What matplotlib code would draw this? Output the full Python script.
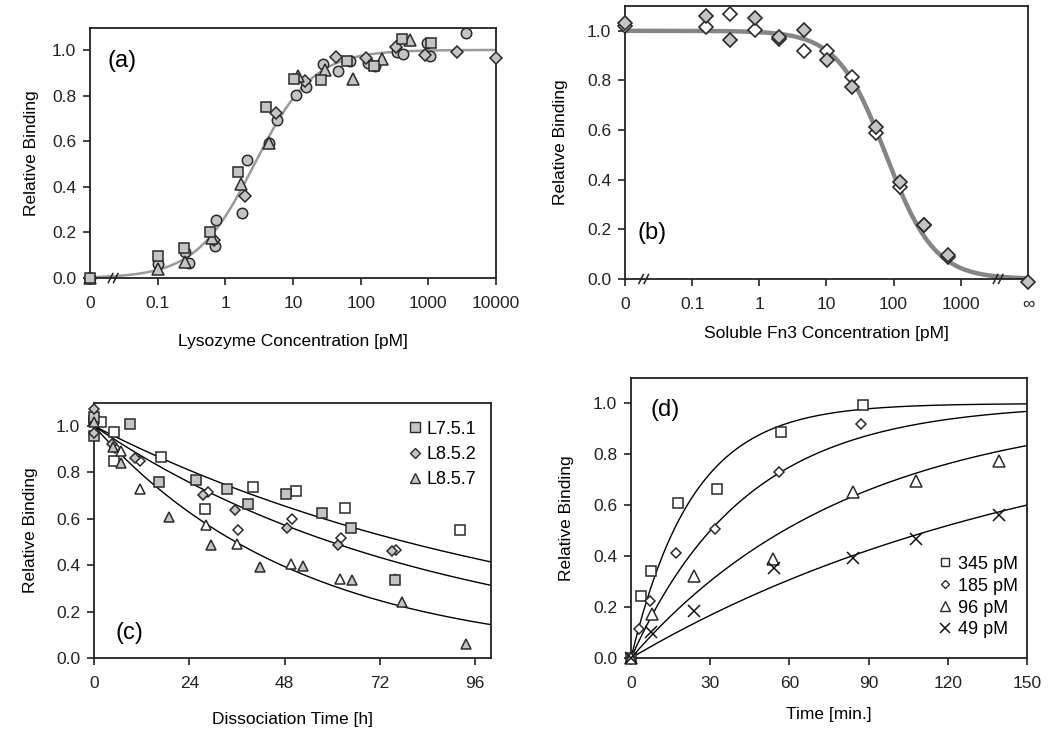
import numpy as np
import matplotlib
matplotlib.use("Agg")
import matplotlib.pyplot as plt
from matplotlib.lines import Line2D
from matplotlib.ticker import FormatStrFormatter

plt.rcParams['font.family'] = ['Liberation Sans', 'DejaVu Sans']

# ---------------- Panel (a): equilibrium titration ----------------
a_sq_x = [0, 0.1, 0.243, 0.59, 1.55, 3.96, 10.2, 26, 62, 160, 407, 1110]
a_sq_y = [0, 0.096, 0.133, 0.20, 0.466, 0.751, 0.871, 0.866, 0.952, 0.93, 1.047, 1.032]
a_ci_x = [0, 0.1, 0.257, 0.295, 0.74, 0.70, 1.78, 2.11, 4.4, 5.77, 11.0, 15.5,
          27.4, 46, 70, 127, 163, 348, 421, 970, 1050, 3590]
a_ci_y = [0, 0.061, 0.115, 0.064, 0.254, 0.142, 0.286, 0.518, 0.59, 0.693, 0.803, 0.839,
          0.937, 0.908, 0.952, 0.944, 0.93, 0.993, 0.982, 1.029, 0.975, 1.073]
a_tr_x = [0, 0.1, 0.25, 0.64, 1.72, 4.36, 11.7, 30, 78, 206, 530]
a_tr_y = [0, 0.039, 0.072, 0.174, 0.412, 0.593, 0.886, 0.912, 0.874, 0.959, 1.044]
a_di_x = [0, 0.68, 1.95, 5.6, 15, 43, 118, 328, 885, 2670, 10000]
a_di_y = [0, 0.165, 0.361, 0.725, 0.864, 0.971, 0.963, 1.012, 0.978, 0.99, 0.966]
a_kd = 2.7  # pM, fitted
a_ticks = [0, 0.1, 1, 10, 100, 1000, 10000]
a_ticklabels = ['0', '0.1', '1', '10', '100', '1000', '10000']

# ---------------- Panel (b): competition ----------------
INF = np.inf
b_fill_x = [0, 0.16, 0.37, 0.85, 1.95, 4.6, 10.2, 24, 54, 125, 285, 650, INF]
b_fill_y = [1.03, 1.059, 0.961, 1.053, 0.976, 1.003, 0.883, 0.775, 0.614, 0.392, 0.216, 0.097, -0.011]
b_open_x = [0, 0.16, 0.37, 0.85, 1.95, 4.6, 10.2, 24, 54, 125, 285, 650]
b_open_y = [1.02, 1.016, 1.066, 1.003, 0.968, 0.92, 0.919, 0.812, 0.587, 0.372, 0.216, 0.088]
b_ic50 = 77.0
b_hill = 1.2
b_ticks = [0, 0.1, 1, 10, 100, 1000, INF]
b_ticklabels = ['0', '0.1', '1', '10', '100', '1000', '\u221e']

# ---------------- Panel (c): dissociation ----------------
c_labels = ['L7.5.1', 'L8.5.2', 'L8.5.7']
c_sq_fill_t = [0, 0, 9.0, 16.4, 25.8, 33.6, 38.8, 48.3, 57.4, 64.8, 75.8]
c_sq_fill_y = [1.039, 0.955, 1.01, 0.759, 0.766, 0.727, 0.665, 0.705, 0.625, 0.562, 0.338]
c_sq_open_t = [0, 1.8, 5.0, 5.0, 17.0, 27.9, 40.1, 51.0, 63.3, 92.1]
c_sq_open_y = [1.02, 1.017, 0.974, 0.848, 0.866, 0.644, 0.737, 0.718, 0.647, 0.553]
c_di_fill_t = [0, 0, 4.6, 10.4, 27.5, 35.6, 48.7, 61.5, 75.0]
c_di_fill_y = [1.075, 0.97, 0.924, 0.862, 0.704, 0.636, 0.56, 0.486, 0.46]
c_di_open_t = [5.2, 11.6, 28.6, 36.3, 49.9, 62.2, 76.2]
c_di_open_y = [0.905, 0.851, 0.716, 0.55, 0.598, 0.517, 0.464]
c_tr_fill_t = [0, 4.8, 6.7, 18.9, 29.6, 41.8, 52.7, 65.1, 77.6, 93.8]
c_tr_fill_y = [1.017, 0.91, 0.842, 0.608, 0.486, 0.392, 0.397, 0.335, 0.241, 0.062]
c_tr_open_t = [0, 6.7, 11.5, 28.1, 36.1, 49.6, 61.9, 75.8]
c_tr_open_y = [1.03, 0.891, 0.727, 0.572, 0.493, 0.407, 0.339, 0.339]
c_koff = [0.00882, 0.01161, 0.0194]  # 1/h, fitted
c_ticks = [0, 24, 48, 72, 96]

# ---------------- Panel (d): association ----------------
d_labels = ['345 pM', '185 pM', '96 pM', '49 pM']
d_conc = [345, 185, 96, 49]
d_t = [[0, 3.7, 7.5, 17.7, 32.5, 56.7, 87.7],
       [0, 3.0, 7.0, 17.1, 31.8, 55.9, 87.2],
       [0, 7.8, 23.9, 53.7, 84.0, 107.9, 139.3],
       [0, 7.6, 23.9, 54.0, 84.0, 107.9, 139.3]]
d_y = [[0, 0.245, 0.341, 0.61, 0.663, 0.888, 0.993],
       [0, 0.112, 0.223, 0.413, 0.505, 0.732, 0.919],
       [0, 0.171, 0.322, 0.39, 0.654, 0.696, 0.774],
       [0, 0.101, 0.184, 0.352, 0.394, 0.468, 0.56]]
d_kon = 1.25e-4  # 1/(pM min), fitted
d_ticks = [0, 30, 60, 90, 120, 150]

# ---------------- styling ----------------
GRAY = '#c4c4c4'
EDGE = '#2a2a2a'
SPINE = '#222222'
W, H = 1050, 749

fig = plt.figure(figsize=(10.5, 7.49), dpi=100)
axA = fig.add_axes([0.0857, 0.6288, 0.3867, 0.3338])
axB = fig.add_axes([0.5952, 0.6275, 0.3838, 0.3645])
axC = fig.add_axes([0.0895, 0.1215, 0.3781, 0.3405])
axD = fig.add_axes([0.6010, 0.1215, 0.3771, 0.3738])


def style(ax):
    for s in ax.spines.values():
        s.set_linewidth(1.3)
        s.set_color(SPINE)
    ax.tick_params(direction='out', length=5, width=1.2, labelsize=12.5,
                   colors=SPINE, top=False, right=False)
    ax.tick_params(axis='x', pad=8)
    ax.tick_params(axis='y', pad=5)
    ax.tick_params(which='minor', length=0)
    ax.set_yticks(np.arange(0, 1.01, 0.2))
    ax.yaxis.set_major_formatter(FormatStrFormatter('%.1f'))
    ax.set_ylabel('Relative Binding', fontsize=12.5)


def break_mark(ax, xfrac):
    pos = ax.get_position()
    wpx = pos.width * W
    hpx = pos.height * H
    for off in (-2.6, 2.6):
        x0 = xfrac + (off - 2.2) / wpx
        x1 = xfrac + (off + 2.2) / wpx
        ax.plot([x0, x1], [-4.5 / hpx, 4.5 / hpx], transform=ax.transAxes,
                color=SPINE, lw=1.1, clip_on=False, zorder=5)


def logpos(vals, zero=0.01, inf=1e4):
    v = np.asarray(vals, dtype=float)
    return np.where(v == 0, zero, np.where(np.isinf(v), inf, v))


def pts(ax, x, y, marker, ms, face, mew=1.1, zorder=4):
    ax.plot(x, y, ls='none', marker=marker, ms=ms, mfc=face, mec=EDGE,
            mew=mew, clip_on=False, zorder=zorder)


# ---- (a) ----
ax = axA
style(ax)
ax.set_xscale('log')
xx = np.logspace(-2, 4, 400)
ax.plot(xx, xx / (xx + a_kd), color='#9a9a9a', lw=1.8, zorder=2)
pts(ax, logpos(a_ci_x), a_ci_y, 'o', 7.5, GRAY)
pts(ax, logpos(a_di_x), a_di_y, 'D', 5.8, GRAY)
pts(ax, logpos(a_tr_x), a_tr_y, '^', 8.0, GRAY)
pts(ax, logpos(a_sq_x), a_sq_y, 's', 7.2, GRAY)
ax.set_xlim(0.01, 1e4)
ax.set_ylim(0, 1.096)
ax.set_xticks(logpos(a_ticks))
ax.set_xticklabels(a_ticklabels)
ax.set_xlabel('Lysozyme Concentration [pM]', fontsize=12.5)
ax.xaxis.set_label_coords(0.5, -0.222)
ax.yaxis.set_label_coords(-0.126, 0.5)
ax.text(0.042, 0.868, '(a)', transform=ax.transAxes, fontsize=17, va='center', ha='left')
break_mark(ax, (np.log10(0.022) + 2) / 6)

# ---- (b) ----
ax = axB
style(ax)
ax.set_xscale('log')
xx = np.logspace(-2, 4, 400)
ax.plot(xx, 1.0 / (1.0 + (xx / b_ic50) ** b_hill), color='#858585', lw=3.2, zorder=2,
        solid_capstyle='butt')
pts(ax, logpos(b_open_x), b_open_y, 'D', 7.6, 'white', mew=1.2)
pts(ax, logpos(b_fill_x), b_fill_y, 'D', 7.6, GRAY, mew=1.2)
ax.set_xlim(0.01, 1e4)
ax.set_ylim(0, 1.10)
ax.set_xticks(logpos(b_ticks))
ax.set_xticklabels(b_ticklabels)
ax.set_xlabel('Soluble Fn3 Concentration [pM]', fontsize=12.5)
ax.xaxis.set_label_coords(0.5, -0.172)
ax.yaxis.set_label_coords(-0.141, 0.5)
ax.text(0.032, 0.168, '(b)', transform=ax.transAxes, fontsize=17, va='center', ha='left')
break_mark(ax, (np.log10(0.019) + 2) / 6)
break_mark(ax, (np.log10(3600) + 2) / 6)

# ---- (c) ----
ax = axC
style(ax)
tt = np.linspace(0, 100, 300)
for k in c_koff:
    ax.plot(tt, np.exp(-k * tt), color='black', lw=1.0, zorder=2)
pts(ax, c_sq_open_t, c_sq_open_y, 's', 6.6, 'white')
pts(ax, c_di_open_t, c_di_open_y, 'D', 5.0, 'white')
pts(ax, c_tr_open_t, c_tr_open_y, '^', 7.2, 'white')
pts(ax, c_sq_fill_t, c_sq_fill_y, 's', 6.6, GRAY)
pts(ax, c_di_fill_t, c_di_fill_y, 'D', 5.0, GRAY)
pts(ax, c_tr_fill_t, c_tr_fill_y, '^', 7.2, GRAY)
ax.set_xlim(0, 100)
ax.set_ylim(0, 1.099)
ax.set_xticks(c_ticks)
ax.set_xlabel('Dissociation Time [h]', fontsize=12.5)
ax.xaxis.set_label_coords(0.5, -0.21)
ax.yaxis.set_label_coords(-0.141, 0.5)
ax.text(0.053, 0.098, '(c)', transform=ax.transAxes, fontsize=17, va='center', ha='left')
handles = [Line2D([], [], ls='none', marker=m, ms=s, mfc=GRAY, mec=EDGE, mew=1.0)
           for m, s in zip(['s', 'D', '^'], [6.6, 5.0, 7.2])]
ax.legend(handles, c_labels, loc='upper left', bbox_to_anchor=(0.79, 0.93),
          frameon=False, fontsize=13, handlelength=0.8, handletextpad=0.25,
          labelspacing=0.45, borderpad=0, borderaxespad=0)

# ---- (d) ----
ax = axD
style(ax)
tt = np.linspace(0, 150, 300)
d_markers = ['s', 'D', '^', 'x']
d_sizes = [7.2, 5.2, 8.0, 8.0]
for c, t, y, m, s in zip(d_conc, d_t, d_y, d_markers, d_sizes):
    ax.plot(tt, 1 - np.exp(-d_kon * c * tt), color='black', lw=1.0, zorder=2)
    if m == 'x':
        ax.plot(t, y, ls='none', marker=m, ms=s, mec='#111111', mew=1.1,
                clip_on=False, zorder=4)
    else:
        pts(ax, t, y, m, s, 'white')
ax.set_xlim(0, 150)
ax.set_ylim(0, 1.10)
ax.set_xticks(d_ticks)
ax.set_xlabel('Time [min.]', fontsize=12.5)
ax.xaxis.set_label_coords(0.5, -0.175)
ax.yaxis.set_label_coords(-0.144, 0.5)
ax.text(0.048, 0.886, '(d)', transform=ax.transAxes, fontsize=17, va='center', ha='left')
handles = []
for m, s in zip(d_markers, d_sizes):
    if m == 'x':
        handles.append(Line2D([], [], ls='none', marker=m, ms=s * 0.85, mec='#111111', mew=1.1))
    else:
        handles.append(Line2D([], [], ls='none', marker=m, ms=s * 0.85, mfc='white', mec=EDGE, mew=1.0))
ax.legend(handles, d_labels, loc='upper left', bbox_to_anchor=(0.775, 0.365),
          frameon=False, fontsize=13, handlelength=0.8, handletextpad=0.3,
          labelspacing=0.27, borderpad=0, borderaxespad=0)

fig.savefig('out.png', dpi=100)
